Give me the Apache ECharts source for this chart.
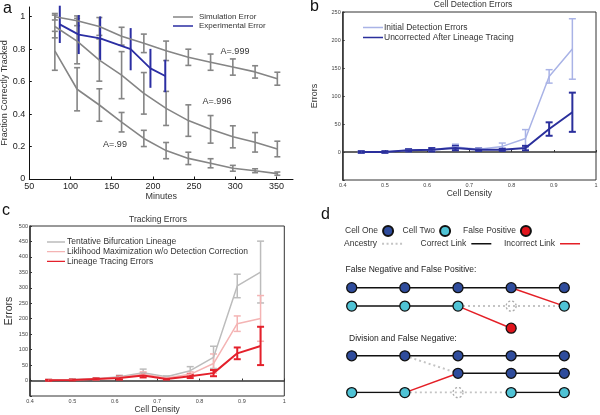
<!DOCTYPE html>
<html><head><meta charset="utf-8">
<script src="https://cdn.jsdelivr.net/npm/echarts@6/dist/echarts.min.js"></script>
<style>html,body{margin:0;padding:0;background:#fff}#c{width:600px;height:415px}</style>
</head><body><div id="c"></div>
<script>
// ---------- Panel a data ----------
const aMinutes = [81,108,135,162,189,216,243,270,297,324,351];
const a999 = [1.0,0.975,0.94,0.88,0.836,0.79,0.75,0.72,0.69,0.66,0.618];
const a999Err = [0.02,0.03,0.055,0.055,0.057,0.06,0.05,0.05,0.05,0.038,0.04];
const a996 = [0.94,0.85,0.733,0.64,0.528,0.435,0.36,0.306,0.26,0.226,0.185];
const a996Err = [0.07,0.14,0.13,0.145,0.128,0.105,0.097,0.085,0.068,0.06,0.048];
const a99 = [0.79,0.553,0.456,0.35,0.25,0.175,0.127,0.097,0.066,0.051,0.033];
const a99Err = [0.12,0.133,0.1,0.06,0.05,0.05,0.038,0.028,0.018,0.012,0.01];
const expMinutes = [87,110,136,173,197,215];
const expFrac = [0.953,0.89,0.867,0.80,0.682,0.635];
const expErr = [0.115,0.12,0.135,0.13,0.12,0.1];
// ---------- Panel b/c data ----------
const density = [0.444,0.5,0.556,0.611,0.667,0.722,0.778,0.833,0.889,0.944];
const bInitial = [0,0,3,4,9,5,10,24,135,184];
const bInitialErr = [1,1,2,3,5,2,6,16,12,54];
const bUncorr = [0,0,3,4,7,4,4,7,41,71];
const bUncorrErr = [1.5,1.5,2,3,4,2,2,4,12,35];
const cTentative = [2,3,6,12,25,12,32,75,306,351];
const cTentativeErr = [1.5,2,3,5,12,3,13,36,38,100];
const cLikelihood = [1,2,5,10,20,8,20,55,184,201];
const cLikelihoodErr = [1,1,2,4,8,2,8,31,25,74];
const cLineage = [1,2,5,8,16,5,14,24,88,112];
const cLineageErr = [1.5,1.5,2,5,6,2,6,10,19,62];
// ---------- Panel d data (columns = frames, rows = track rows) ----------
const rows = {A1:0, A2:1, AFP:2.2, B1:3.7, B2:4.65, B3:5.7};
const dCellOne = [[0,'A1'],[1,'A1'],[2,'A1'],[3,'A1'],[4,'A1'],[0,'B1'],[1,'B1'],[2,'B1'],[3,'B1'],[4,'B1'],[2,'B2'],[3,'B2'],[4,'B2']];
const dCellTwo = [[0,'A2'],[1,'A2'],[2,'A2'],[4,'A2'],[0,'B3'],[1,'B3'],[3,'B3'],[4,'B3']];
const dFalsePos = [[3,'AFP']];
const dMissed = [[3,'A2'],[2,'B3']];
const dCorrect = [[[0,'A1'],[4,'A1']],[[0,'A2'],[2,'A2']],[[0,'B1'],[4,'B1']],[[2,'B2'],[4,'B2']],[[0,'B3'],[1,'B3']],[[3,'B3'],[4,'B3']]];
const dIncorrect = [[[3,'A1'],[4,'A2']],[[2,'A2'],[3,'AFP']],[[1,'B3'],[2,'B2']]];
const dAncestry = [[[2,'A2'],[4,'A2']],[[1,'B1'],[2,'B2']],[[1,'B3'],[3,'B3']]];

const FONT = "'Liberation Sans', Arial, sans-serif";
const pt = p => [p[0], rows[p[1]]];

function errRender(capW, color, lw) {
  return function (params, api) {
    const x = api.value(0), y = api.value(1), e = api.value(2);
    const t = api.coord([x, y + e]), b = api.coord([x, y - e]);
    const st = {stroke: color, lineWidth: lw};
    const ch = [{type:'line', shape:{x1:t[0],y1:t[1],x2:b[0],y2:b[1]}, style:st}];
    if (capW > 0) {
      ch.push({type:'line', shape:{x1:t[0]-capW/2,y1:t[1],x2:t[0]+capW/2,y2:t[1]}, style:st});
      ch.push({type:'line', shape:{x1:b[0]-capW/2,y1:b[1],x2:b[0]+capW/2,y2:b[1]}, style:st});
    }
    return {type:'group', children: ch};
  };
}
function zip(xs, ys) { return xs.map((x, i) => [x, ys[i]]); }
function zip3(xs, ys, es) { return xs.map((x, i) => [x, ys[i], es[i]]); }

const series = [];
function addSeries(gi, name, xs, ys, es, color, lw, capW, elw) {
  series.push({type:'line', name, xAxisIndex:gi, yAxisIndex:gi, data:zip(xs, ys), symbol:'none',
    lineStyle:{color, width:lw}, itemStyle:{color}, animation:false, z:3});
  series.push({type:'custom', name: name + ' err', xAxisIndex:gi, yAxisIndex:gi, data:zip3(xs, ys, es),
    renderItem: errRender(capW, color, elw), encode:{x:0, y:1}, animation:false, z:2, silent:true});
}
const grayA = '#858585';
addSeries(0, 'Simulation Error', aMinutes, a999, a999Err, grayA, 1.6, 6, 1.6);
addSeries(0, 'Simulation Error', aMinutes, a996, a996Err, grayA, 1.6, 6, 1.6);
addSeries(0, 'Simulation Error', aMinutes, a99, a99Err, grayA, 1.6, 6, 1.6);
addSeries(0, 'Experimental Error', expMinutes, expFrac, expErr, '#2b2ea3', 1.8, 0, 2);
addSeries(1, 'Initial Detection Errors', density, bInitial, bInitialErr, '#a9b3e6', 1.5, 7, 1.5);
addSeries(1, 'Uncorrected After Lineage Tracing', density, bUncorr, bUncorrErr, '#2a2f9c', 2, 7, 2);
addSeries(2, 'Tentative Bifurcation Lineage', density, cTentative, cTentativeErr, '#bcbcbc', 1.5, 7, 1.5);
addSeries(2, 'Liklihood Maximization w/o Detection Correction', density, cLikelihood, cLikelihoodErr, '#f4b4b4', 1.5, 7, 1.5);
addSeries(2, 'Lineage Tracing Errors', density, cLineage, cLineageErr, '#e4202b', 2, 7, 2);

// Panel d
function linkSeries(name, segs, style, z) {
  segs.forEach(s => series.push({type:'line', name, xAxisIndex:3, yAxisIndex:3, data:s.map(pt), symbol:'none',
    lineStyle:style, itemStyle:{color:style.color}, animation:false, z, silent:true}));
}
linkSeries('Ancestry', dAncestry, {color:'#c4c4c4', width:2, type:[2,3]}, 2);
linkSeries('Correct Link', dCorrect, {color:'#111', width:1.5}, 3);
linkSeries('Incorrect Link', dIncorrect, {color:'#e41f26', width:1.5}, 3);
function nodeSeries(name, pts, fill, border, btype) {
  series.push({type:'scatter', name, xAxisIndex:3, yAxisIndex:3, data:pts.map(pt), symbol:'circle', symbolSize:10,
    itemStyle:{color:fill, borderColor:border, borderWidth:1.3, borderType:btype || 'solid', opacity:1}, animation:false, z:5, silent:true});
}
nodeSeries('Cell One', dCellOne, '#2f4c9c', '#111');
nodeSeries('Cell Two', dCellTwo, '#4fc3d5', '#111');
nodeSeries('False Positive', dFalsePos, '#e0141c', '#111');
nodeSeries('Missed', dMissed, 'rgba(255,255,255,0)', '#aaa', [2,2]);

// legend icons (shape only)
const LINE_ICON = 'path://M0,0h0.01v0.01h-0.01zM0,3.3h20v1.4h-20zM19.99,7.99h0.01v0.01h-0.01z';
const DOT_ICON = 'path://M0,0h0.01v0.01h-0.01zM0,3h2v2h-2zM4.5,3h2v2h-2zM9,3h2v2h-2zM13.5,3h2v2h-2zM18,3h2v2h-2zM19.99,7.99h0.01v0.01h-0.01z';
const lineItems = names => names.map(n => ({name:n, icon:LINE_ICON}));

const smallLbl = {fontSize:5.5, color:'#444', margin:2, fontFamily:FONT};
const boxAxisLine = {lineStyle:{color:'#333', width:1.5}};
function dLegend(name, left, top, icon, w, h) {
  return {data:[{name, icon}], orient:'horizontal', align:'right', left, top, itemWidth:w, itemHeight:h,
    selectedMode:false, padding:0, textStyle:{fontSize:8.5, color:'#333', padding:[0,0,0,0]}};
}
const option = {
  animation:false,
  textStyle:{fontFamily:FONT},
  grid:[
    {left:29.3, top:7, width:263.7, height:172, containLabel:false, outerBoundsMode:'none'},
    {left:342.7, top:12, width:253.3, height:168, show:true, borderColor:'#333', borderWidth:1, containLabel:false, outerBoundsMode:'none'},
    {left:30, top:226, width:254.3, height:170, show:true, borderColor:'#333', borderWidth:1, containLabel:false, outerBoundsMode:'none'},
    {left:351.7, top:287.7, width:212.6, height:104.9, containLabel:false, outerBoundsMode:'none'}
  ],
  xAxis:[
    {gridIndex:0, type:'value', min:50, max:370, interval:50, name:'Minutes', nameLocation:'middle', nameGap:13,
     nameTextStyle:{fontSize:9, color:'#333'}, axisLine:{lineStyle:{color:'#111', width:1}},
     axisTick:{inside:true, length:2.5, lineStyle:{color:'#111'}}, splitLine:{show:false},
     axisLabel:{fontSize:9, color:'#222', margin:3, showMaxLabel:false}},
    {gridIndex:1, type:'value', min:0.4, max:1, interval:0.1, name:'Cell Density', nameLocation:'middle', nameGap:8,
     nameTextStyle:{fontSize:8.5, color:'#333'}, axisLine:boxAxisLine,
     axisTick:{inside:true, length:2, lineStyle:{color:'#333'}}, splitLine:{show:false}, axisLabel:smallLbl},
    {gridIndex:2, type:'value', min:0.4, max:1, interval:0.1, name:'Cell Density', nameLocation:'middle', nameGap:8,
     nameTextStyle:{fontSize:8.5, color:'#333'}, axisLine:boxAxisLine,
     axisTick:{inside:true, length:2, lineStyle:{color:'#333'}}, splitLine:{show:false}, axisLabel:smallLbl},
    {gridIndex:3, type:'value', min:0, max:4, show:false}
  ],
  yAxis:[
    {gridIndex:0, type:'value', min:0, max:1.06, interval:0.2, name:'Fraction Correctly Tracked', nameLocation:'middle', nameGap:19,
     nameTextStyle:{fontSize:9, color:'#333'}, axisLine:{show:true, lineStyle:{color:'#111', width:1}},
     axisTick:{show:true, inside:true, length:2.5, lineStyle:{color:'#111'}}, splitLine:{show:false},
     axisLabel:{fontSize:9, color:'#222', margin:4, showMaxLabel:false}},
    {gridIndex:1, type:'value', min:-50, max:250, interval:50, name:'Errors', nameLocation:'middle', nameGap:24,
     nameTextStyle:{fontSize:9, color:'#333'}, axisLine:Object.assign({show:true}, boxAxisLine),
     axisTick:{show:true, inside:true, length:2, lineStyle:{color:'#333'}}, splitLine:{show:false},
     axisLabel:Object.assign({formatter: v => v < 0 ? '' : String(v)}, smallLbl)},
    {gridIndex:2, type:'value', min:-50, max:500, interval:50, name:'Errors', nameLocation:'middle', nameGap:11,
     nameTextStyle:{fontSize:10.5, color:'#333'}, axisLine:Object.assign({show:true}, boxAxisLine),
     axisTick:{show:true, inside:true, length:2, lineStyle:{color:'#333'}}, splitLine:{show:false},
     axisLabel:Object.assign({formatter: v => v < 0 ? '' : String(v)}, smallLbl)},
    {gridIndex:3, type:'value', min:0, max:5.7, inverse:true, show:false}
  ],
  legend:[
    {data:lineItems(['Simulation Error','Experimental Error']), orient:'vertical', left:168, top:8, itemWidth:22, itemHeight:8, itemGap:1,
     selectedMode:false, textStyle:{fontSize:8, color:'#333'}},
    {data:lineItems(['Initial Detection Errors','Uncorrected After Lineage Tracing']), orient:'vertical', left:358, top:18, itemWidth:20, itemHeight:8, itemGap:1,
     selectedMode:false, textStyle:{fontSize:8.5, color:'#333', padding:[0,0,0,-4]}},
    {data:lineItems(['Tentative Bifurcation Lineage','Liklihood Maximization w/o Detection Correction','Lineage Tracing Errors']), orient:'vertical', left:42, top:232.5,
     itemWidth:18, itemHeight:8, itemGap:0.7, selectedMode:false, textStyle:{fontSize:8.5, lineHeight:8, color:'#333', padding:[0,0,0,-3]}},
    dLegend('Cell One', 345, 225, 'circle', 10, 10),
    dLegend('Cell Two', 402.5, 225, 'circle', 10, 10),
    dLegend('False Positive', 463, 225, 'circle', 10, 10),
    dLegend('Ancestry', 344, 239.3, DOT_ICON, 20, 8),
    dLegend('Correct Link', 420.5, 239.3, LINE_ICON, 20, 8),
    dLegend('Incorrect Link', 504, 239.3, LINE_ICON, 20, 8)
  ],
  graphic:[
    {type:'text', x:3, y:1, style:{text:'a', font:'16px '+FONT, fill:'#111'}},
    {type:'text', x:310, y:-1, style:{text:'b', font:'16px '+FONT, fill:'#111'}},
    {type:'text', x:2, y:203, style:{text:'c', font:'16px '+FONT, fill:'#111'}},
    {type:'text', x:321, y:207, style:{text:'d', font:'16px '+FONT, fill:'#111'}},
    {type:'text', x:473, y:5, style:{text:'Cell Detection Errors', font:'8.5px '+FONT, fill:'#333', textAlign:'center', align:'center', textVerticalAlign:'middle', verticalAlign:'middle'}},
    {type:'text', x:158, y:219.5, style:{text:'Tracking Errors', font:'8.5px '+FONT, fill:'#333', textAlign:'center', align:'center', textVerticalAlign:'middle', verticalAlign:'middle'}},
    {type:'text', x:235, y:52, style:{text:'A=.999', font:'9px '+FONT, fill:'#333', textAlign:'center', align:'center', textVerticalAlign:'middle', verticalAlign:'middle'}},
    {type:'text', x:217, y:102, style:{text:'A=.996', font:'9px '+FONT, fill:'#333', textAlign:'center', align:'center', textVerticalAlign:'middle', verticalAlign:'middle'}},
    {type:'text', x:115, y:145, style:{text:'A=.99', font:'9px '+FONT, fill:'#333', textAlign:'center', align:'center', textVerticalAlign:'middle', verticalAlign:'middle'}},
    {type:'text', x:345.5, y:269.5, style:{text:'False Negative and False Positive:', font:'8.5px '+FONT, fill:'#222', textVerticalAlign:'middle', verticalAlign:'middle'}},
    {type:'text', x:349, y:338.5, style:{text:'Division and False Negative:', font:'8.5px '+FONT, fill:'#222', textVerticalAlign:'middle', verticalAlign:'middle'}}
  ],
  series
};
const chart = echarts.init(document.getElementById('c'), null, {renderer:'canvas'});
chart.setOption(option);
</script></body></html>
